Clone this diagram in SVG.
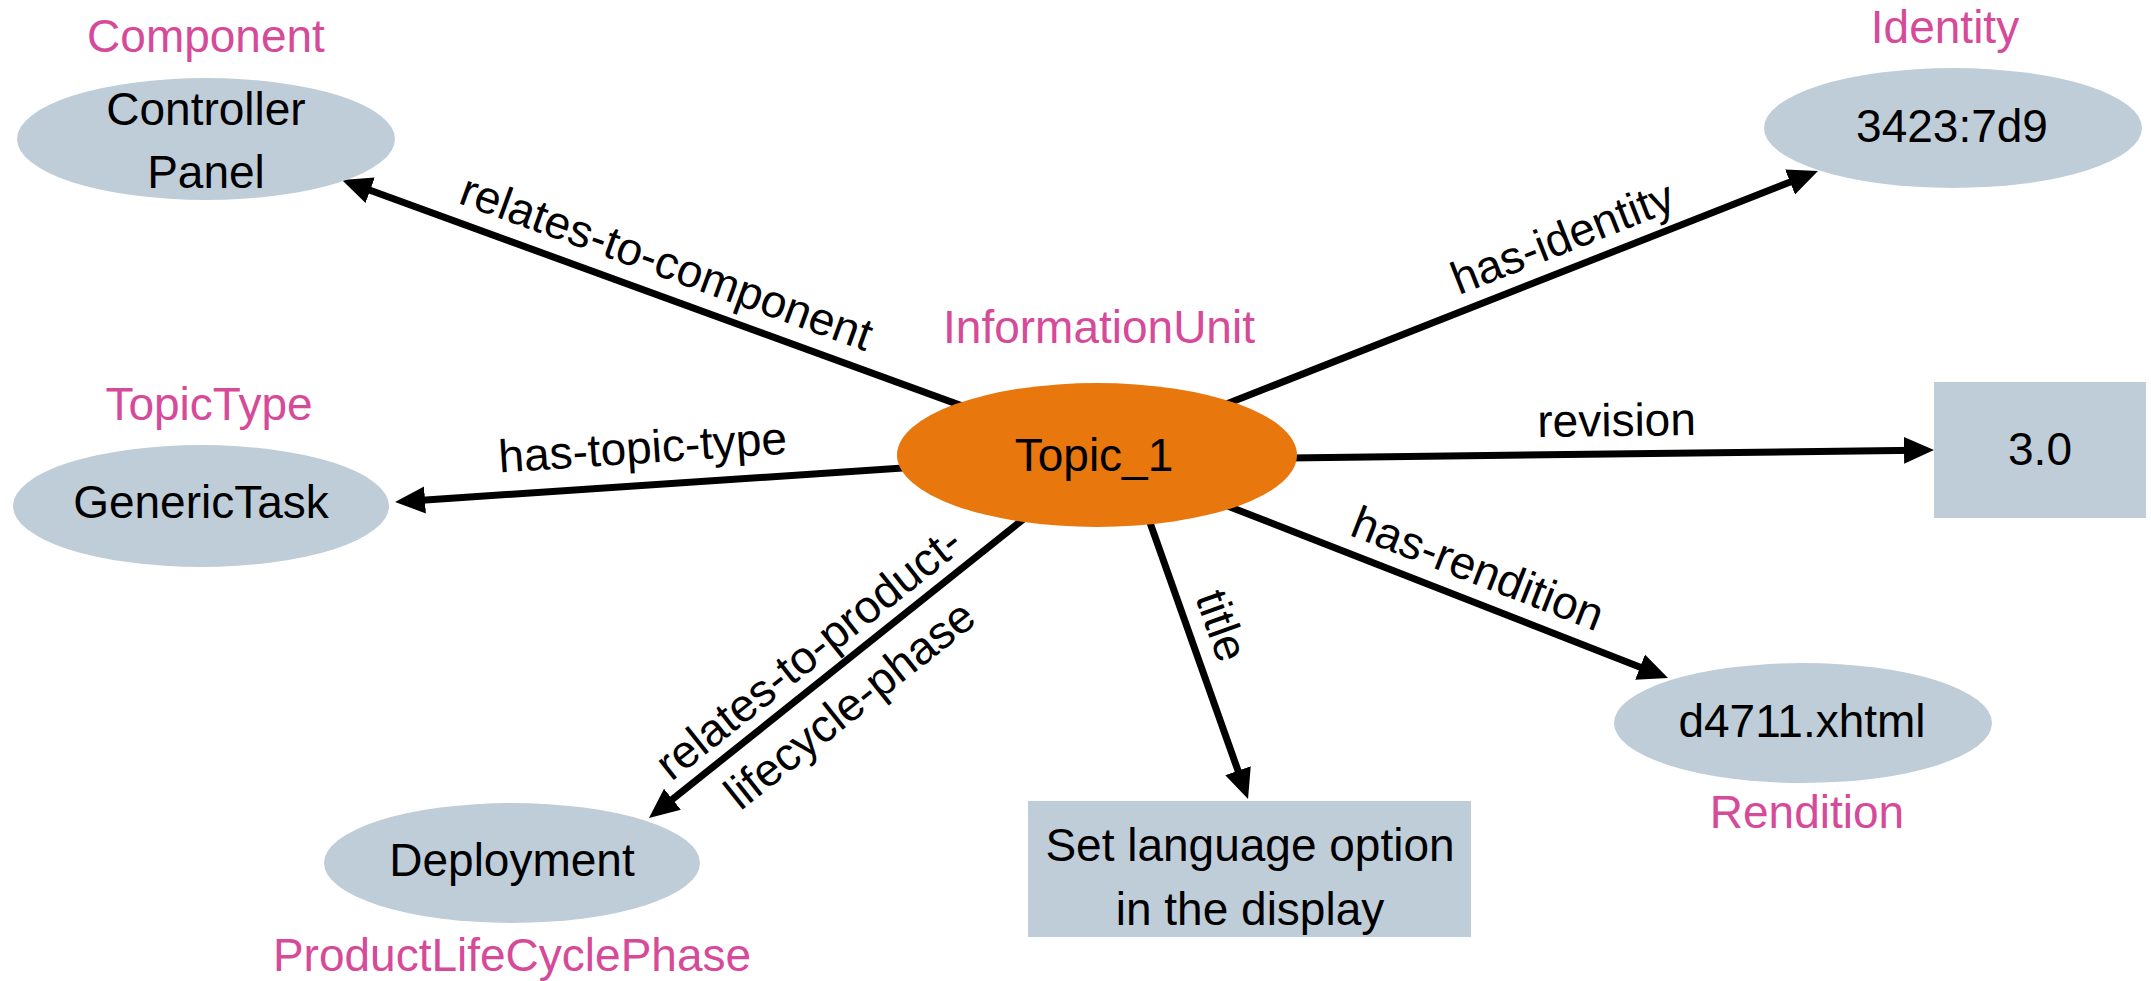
<svg xmlns="http://www.w3.org/2000/svg" width="2151" height="981" viewBox="0 0 2151 981">
<style>
text{font-family:"Liberation Sans",Arial,sans-serif;font-size:46px;fill:#000;text-anchor:middle}
.type{fill:#D64A9A}
.node{fill:#BFCDD9}
.main{fill:#E8770E}
.edge{stroke:#000;stroke-width:7;fill:none;marker-end:url(#arr)}
</style>
<defs>
<marker id="arr" markerUnits="userSpaceOnUse" markerWidth="30" markerHeight="28" viewBox="0 0 30 28" refX="14" refY="14" orient="auto">
<path d="M0,0.5 L30,14 L0,27.5 Z" fill="#000"/>
</marker>
</defs>
<rect width="2151" height="981" fill="#fff"/>
<g id="connectors">
<line class="edge" x1="1097" y1="455" x2="357" y2="185.5"/>
<line class="edge" x1="1097" y1="455" x2="1803.1" y2="176.9"/>
<line class="edge" x1="1097" y1="455" x2="411" y2="500.9"/>
<line class="edge" x1="1200" y1="459" x2="1918" y2="450.2"/>
<line class="edge" x1="1097" y1="455" x2="1653.1" y2="672.2"/>
<line class="edge" x1="1126" y1="455" x2="1242.7" y2="783.9"/>
<line class="edge" x1="1060" y1="490" x2="661.5" y2="808"/>
<text transform="translate(655,294) rotate(20)" y="-18">relates-to-component</text>
<text transform="translate(1574,267) rotate(-21.5)" y="-16">has-identity</text>
<text transform="translate(645,485) rotate(-3.8)" y="-22">has-topic-type</text>
<text transform="translate(1617,454) rotate(-0.7)" y="-18">revision</text>
<text transform="translate(1466,599) rotate(21.3)" y="-17">has-rendition</text>
<text transform="translate(1190,637) rotate(70.4)" y="-18">title</text>
<text transform="translate(827,676) rotate(-38.5)"><tspan x="0" y="-14">relates-to-product-</tspan><tspan x="0" y="52">lifecycle-phase</tspan></text>
</g>
<g id="n_component">
<ellipse class="node" cx="206" cy="139" rx="189" ry="61"/>
<text x="206" y="125">Controller</text>
<text x="206" y="188">Panel</text>
<text class="type" x="206" y="52">Component</text>
</g>
<g id="n_topictype">
<ellipse class="node" cx="201" cy="506" rx="188" ry="61"/>
<text x="201" y="518">GenericTask</text>
<text class="type" x="209" y="420">TopicType</text>
</g>
<g id="n_topic">
<ellipse class="main" cx="1097" cy="455" rx="200" ry="72"/>
<text x="1094" y="471">Topic_1</text>
<text class="type" x="1099" y="343">InformationUnit</text>
</g>
<g id="n_identity">
<ellipse class="node" cx="1953" cy="128" rx="189" ry="60"/>
<text x="1952" y="142">3423:7d9</text>
<text class="type" x="1945" y="43">Identity</text>
</g>
<g id="n_revision">
<rect class="node" x="1934" y="382" width="212" height="136"/>
<text x="2040" y="465">3.0</text>
</g>
<g id="n_rendition">
<ellipse class="node" cx="1803" cy="723" rx="189" ry="60"/>
<text x="1802" y="737">d4711.xhtml</text>
<text class="type" x="1807" y="828">Rendition</text>
</g>
<g id="n_title">
<rect class="node" x="1028" y="801" width="443" height="136"/>
<text x="1250" y="861">Set language option</text>
<text x="1250" y="925">in the display</text>
</g>
<g id="n_phase">
<ellipse class="node" cx="512" cy="863" rx="188" ry="60"/>
<text x="512" y="876">Deployment</text>
<text class="type" x="512" y="971">ProductLifeCyclePhase</text>
</g>
</svg>
